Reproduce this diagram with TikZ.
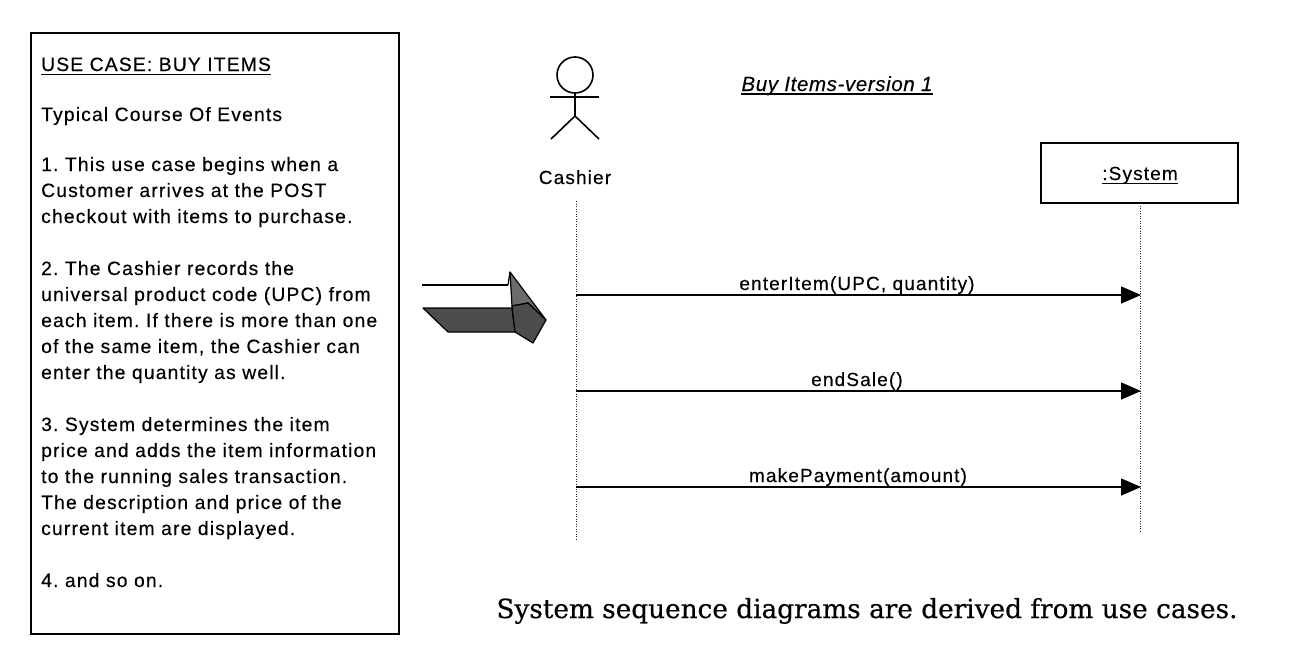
\documentclass[tikz,border=0pt]{standalone}
\usepackage{fontspec}
\usepackage{graphicx}
\usetikzlibrary{arrows.meta}
\newfontfamily\arialt[LetterSpace=6,FakeBold=0.3]{Liberation Sans}
\newfontfamily\titlefont[LetterSpace=3,FakeBold=0.3]{Liberation Sans}
\newfontfamily\capfont[FakeBold=0.5]{DejaVu Serif}
\frenchspacing
\tikzset{
  boxtxt/.style={anchor=base west,inner sep=0pt,font=\arialt\fontsize{19.3}{26}\selectfont},
  seqtxt/.style={inner sep=0pt,font=\arialt\fontsize{19}{22}\selectfont},
  lifeline/.style={line width=1pt,dash pattern=on 1pt off 1.5pt,black!85},
  msg/.style={line width=1.4pt,-{Triangle[length=20pt,width=17pt]}},
  stick/.style={line width=1.6pt},
  fatdark/.style={fill=black!70,draw=black,line width=1.2pt,line join=round},
  fatlight/.style={fill=black!58,draw=black,line width=1.2pt,line join=round}
}
\begin{document}
\begin{tikzpicture}[x=1pt,y=-1pt]
\useasboundingbox (0,0) rectangle (1294,664);
\fill[white] (0,0) rectangle (1294,664);

% ---- use case box ----
\draw[line width=2pt] (31,33) rectangle (399,634);
\node[boxtxt] (uc) at (41,71) {USE CASE: BUY ITEMS};
\draw[line width=1.2pt] ([yshift=-3.5pt]uc.base west) -- ([yshift=-3.5pt]uc.base east);
\node[boxtxt] (tc) at (41,121) {Typical Course Of Events};
\foreach \k/\t in {0/{1. This use case begins when a},
                   1/{Customer arrives at the POST},
                   2/{checkout with items to purchase.},
                   4/{2. The Cashier records the},
                   5/{universal product code (UPC) from},
                   6/{each item. If there is more than one},
                   7/{of the same item, the Cashier can},
                   8/{enter the quantity as well.},
                   10/{3. System determines the item},
                   11/{price and adds the item information},
                   12/{to the running sales transaction.},
                   13/{The description and price of the},
                   14/{current item are displayed.},
                   16/{4. and so on.}}{
  \node[boxtxt] (line\k) at (41,{171+26*\k}) {\t};
}

% ---- fat 3D arrow ----
\draw[line width=1.3pt] (422,285) coordinate (fa1) -- (508,285) coordinate (fa2);
\draw[fatdark] (423,308) -- (512,308) -- (515,332) -- (448,332) -- cycle;
\draw[fatlight] (510,272) coordinate (fatip) -- (546,320) -- (528,303) -- (512,306) -- cycle;
\draw[fatdark] (512,306) -- (528,303) -- (546,320) -- (533,343) -- (515,332) -- cycle;
\draw[line width=1.3pt] (fa2) -- (fatip);

% ---- title ----
\node[inner sep=0pt,anchor=base,font=\titlefont\itshape\fontsize{20.5}{24}\selectfont] (ttl) at (837,91) {Buy Items-version 1};
\draw[line width=1.2pt] ([yshift=-3pt]ttl.base west) -- ([yshift=-3pt]ttl.base east);

% ---- actor ----
\draw[stick] (575,75) circle[radius=18pt];
\coordinate (neck) at (575,93);
\coordinate (hip) at (575,116);
\draw[stick] (neck) -- (hip);
\draw[stick] (550,97) coordinate (armL) -- (599,97) coordinate (armR);
\draw[stick] (551,139) coordinate (legL) -- (hip) -- (599,139) coordinate (legR);
\node[seqtxt,anchor=base] (cashier) at (575,184) {Cashier};

% ---- system object ----
\node[draw,line width=1.3pt,minimum width=197pt,minimum height=60pt,inner sep=0pt] (sysbox) at (1139.5,173) {};
\node[seqtxt,anchor=base] (syslbl) at (1140,180) {:System};
\draw[line width=1pt] ([yshift=-3pt]syslbl.base west) -- ([yshift=-3pt]syslbl.base east);

% ---- lifelines ----
\coordinate (ctop) at (576,201);
\coordinate (cbot) at (576,540);
\coordinate (stop) at (1140,203);
\coordinate (sbot) at (1140,533);
\draw[lifeline] (ctop) -- (cbot);
\draw[lifeline] (stop) -- (sbot);

% ---- messages ----
\coordinate (c1) at (576,295); \coordinate (s1) at (1141,295);
\coordinate (c2) at (576,391); \coordinate (s2) at (1141,391);
\coordinate (c3) at (576,487); \coordinate (s3) at (1141,487);
\draw[msg] (c1) -- (s1);
\draw[msg] (c2) -- (s2);
\draw[msg] (c3) -- (s3);
\node[seqtxt,anchor=base] (m1) at (857,290) {enterItem(UPC, quantity)};
\node[seqtxt,anchor=base] (m2) at (857,386) {endSale()};
\node[seqtxt,anchor=base] (m3) at (858,482) {makePayment(amount)};

% ---- caption ----
\node[inner sep=0pt,anchor=base] (cap) at (867,618) {\resizebox{741pt}{!}{\capfont\fontsize{24}{28}\selectfont System sequence diagrams are derived from use cases.}};
\end{tikzpicture}
\end{document}
